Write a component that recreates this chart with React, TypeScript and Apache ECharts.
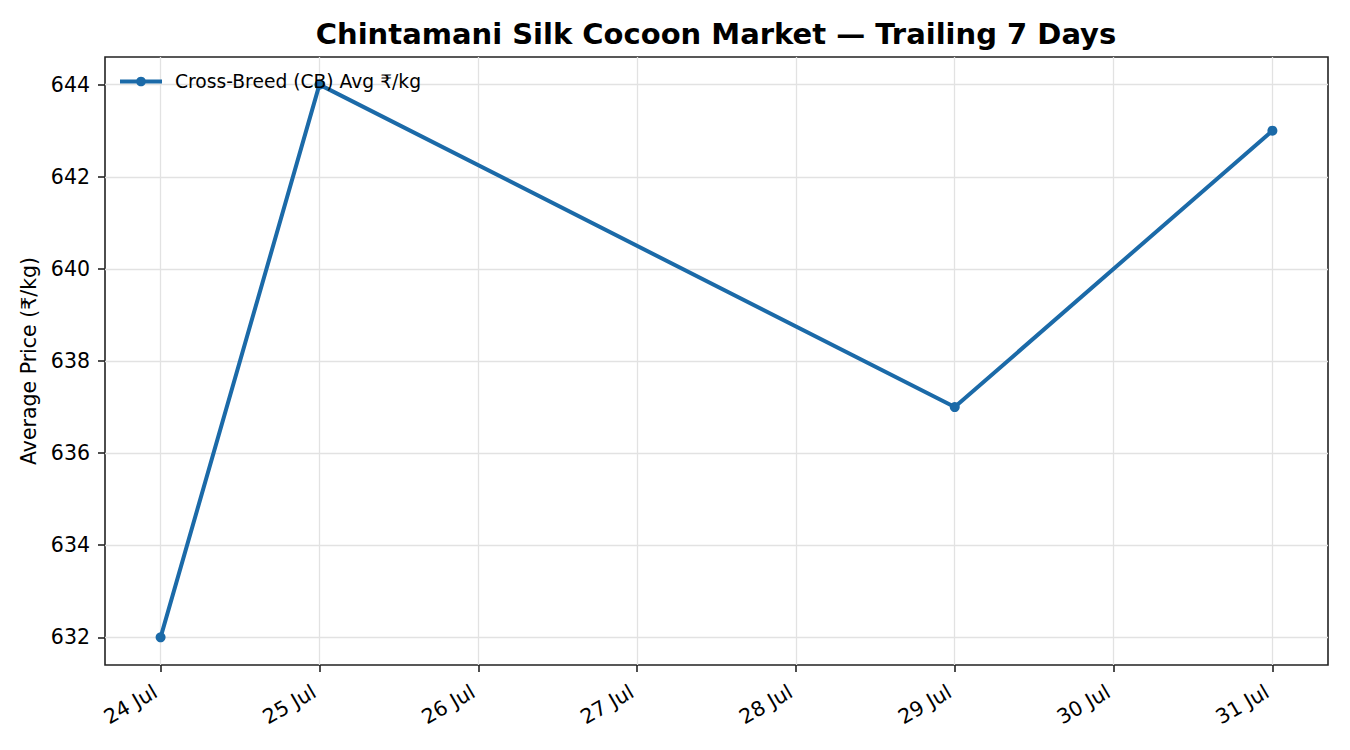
import React, { useEffect, useRef } from "react";
import * as echarts from "echarts";

const TITLE = "Chintamani Silk Cocoon Market — Trailing 7 Days";
const SERIES_NAME = "Cross-Breed (CB) Avg ₹/kg";
const Y_NAME = "Average Price (₹/kg)";
const MONTH = "Jul";

// day of month (July) and average price ₹/kg
const days = [24, 25, 29, 31];
const prices = [632, 644, 637, 643];

const xTicks = [24, 25, 26, 27, 28, 29, 30, 31];
const yTicks = [632, 634, 636, 638, 640, 642, 644];

const FONT = "DejaVu Sans";
const LINE_COLOR = "#1b6aa8";

export default function App() {
  const ref = useRef<HTMLDivElement>(null);

  useEffect(() => {
    if (!ref.current) return;
    const chart = echarts.init(ref.current, undefined, { renderer: "svg" });

    const xMin = xTicks[0] - (xTicks[xTicks.length - 1] - xTicks[0]) * 0.05;
    const xMax = xTicks[xTicks.length - 1] + (xTicks[xTicks.length - 1] - xTicks[0]) * 0.05;
    const yLo = Math.min(...prices);
    const yHi = Math.max(...prices);
    const yMin = yLo - (yHi - yLo) * 0.05;
    const yMax = yHi + (yHi - yLo) * 0.05;

    chart.setOption({
      animation: false,
      backgroundColor: "#ffffff",
      title: {
        text: TITLE,
        left: 711,
        textAlign: "center",
        top: 14,
        textStyle: {
          fontFamily: FONT,
          fontWeight: "bold",
          fontSize: 29,
          color: "#000",
        },
      },
      legend: {
        left: 113,
        top: 67,
        itemWidth: 42,
        itemHeight: 12,
        data: [
          {
            name: SERIES_NAME,
            lineStyle: { width: 4, color: LINE_COLOR },
            itemStyle: { color: LINE_COLOR },
          },
        ],
        textStyle: {
          fontFamily: FONT,
          fontSize: 18.7,
          color: "#000",
          padding: [0, 0, 0, 8],
        },
      },
      grid: {
        left: 105,
        right: 22,
        top: 57,
        bottom: 85,
        show: true,
        borderColor: "#222",
        borderWidth: 1.6,
        backgroundColor: "transparent",
      },
      xAxis: {
        type: "value",
        min: xMin,
        max: xMax,
        minInterval: 1,
        maxInterval: 1,
        axisLine: { show: false },
        axisTick: {
          show: true,
          inside: false,
          length: 7,
          lineStyle: { color: "#222", width: 1.6 },
          customValues: xTicks,
        },
        axisLabel: {
          customValues: xTicks,
          formatter: (v: number) => `${v} ${MONTH}`,
          rotate: 30,
          margin: 22,
          fontFamily: FONT,
          fontSize: 20.5,
          color: "#000",
          padding: [0, 6, 0, 0],
        },
        splitLine: {
          show: true,
          lineStyle: { color: "#e2e2e2", width: 1.3 },
        },
      },
      yAxis: {
        type: "value",
        min: yMin,
        max: yMax,
        minInterval: 2,
        maxInterval: 2,
        name: Y_NAME,
        nameLocation: "middle",
        nameGap: 58,
        nameTextStyle: {
          fontFamily: FONT,
          fontSize: 20.5,
          color: "#000",
        },
        axisLine: { show: false },
        axisTick: {
          show: true,
          inside: false,
          length: 7,
          lineStyle: { color: "#222", width: 1.6 },
          customValues: yTicks,
        },
        axisLabel: {
          customValues: yTicks,
          margin: 15,
          fontFamily: FONT,
          fontSize: 20.5,
          color: "#000",
        },
        splitLine: {
          show: true,
          lineStyle: { color: "#e2e2e2", width: 1.3 },
        },
      },
      series: [
        {
          name: SERIES_NAME,
          type: "line",
          data: days.map((d, i) => [d, prices[i]]),
          symbol: "circle",
          symbolSize: 10,
          showSymbol: true,
          lineStyle: { color: LINE_COLOR, width: 4 },
          itemStyle: { color: LINE_COLOR },
          z: 3,
        },
      ],
    });

    return () => chart.dispose();
  }, []);

  return (
    <div
      ref={ref}
      style={{ position: "fixed", left: 0, top: 0, width: 1350, height: 750 }}
    />
  );
}
